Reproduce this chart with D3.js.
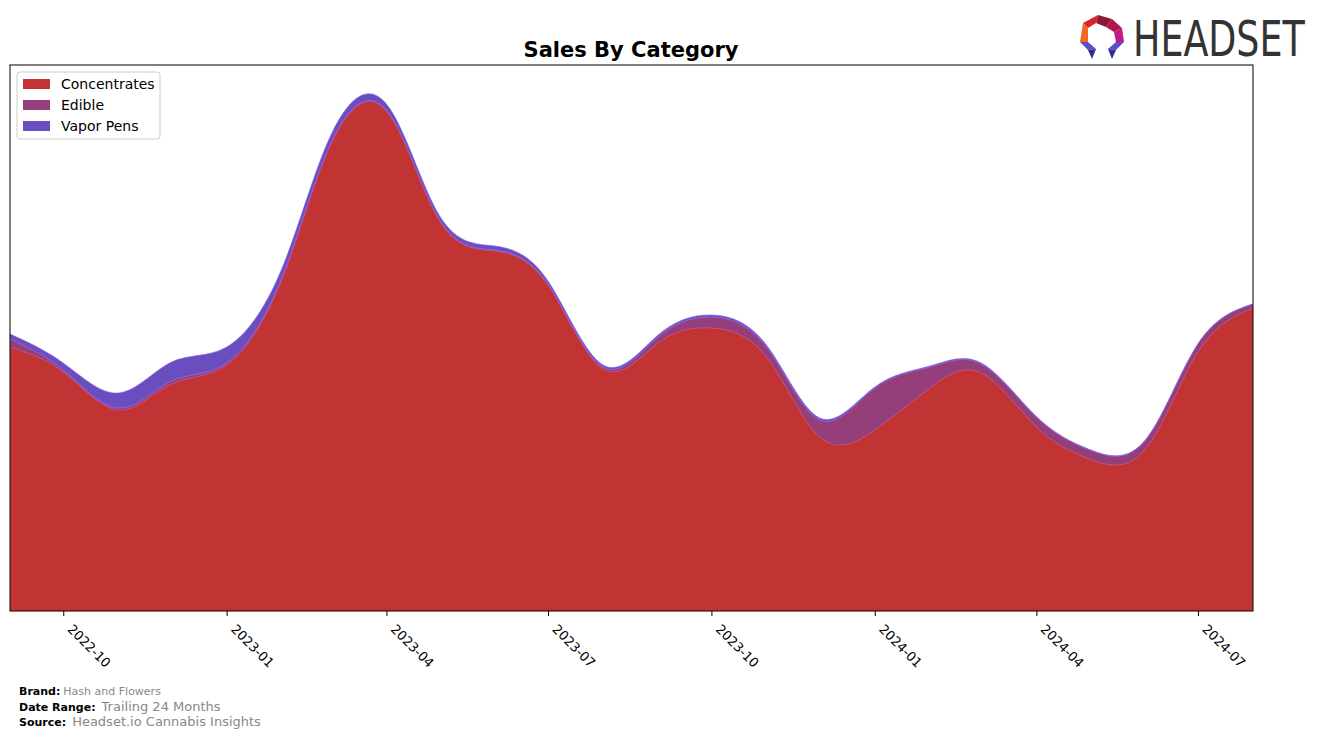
<!DOCTYPE html>
<meta charset="utf-8">
<style>
body { margin: 0; background: #fff; }
svg { font-family: "DejaVu Sans", sans-serif; }
.axis path, .axis line { stroke: #000; }
.axis text { font: 13px "DejaVu Sans", sans-serif; fill: #000; }
.foot-b { font-weight: bold; fill: #000; font-size: 11px; }
.foot-v { fill: #888; }
</style>
<svg width="1317" height="739"></svg>
<script src="https://d3js.org/d3.v7.min.js"></script>
<script>

// monthly data
var months = ["2022-09","2022-10","2022-11","2022-12","2023-01","2023-02","2023-03","2023-04",
              "2023-05","2023-06","2023-07","2023-08","2023-09","2023-10","2023-11","2023-12",
              "2024-01","2024-02","2024-03","2024-04","2024-05","2024-06","2024-07","2024-08"];
var concentrates = [264, 239, 201, 227, 246, 331, 468, 500, 390, 360, 326, 242,
                    268, 283, 254, 174, 181, 223, 238, 184, 152, 161, 259, 303];
var edible = [8, 2, 2, 3, 2, 2, 1, 1, 1, 1, 1, 2,
              6, 11, 10, 17, 42, 21, 9, 10, 9, 9, 8, 4];
var vaporPens = [5, 7, 15, 19, 16, 9, 8, 6, 4, 4, 3, 2,
                 2, 2, 2, 2, 1, 1, 1, 0.5, 0.5, 0, 0, 0];
var tickLabels = ["2022-10","2023-01","2023-04","2023-07","2023-10","2024-01","2024-04","2024-07"];

var categories = ["Concentrates", "Edible", "Vapor Pens"];
var colors = ["#c13433", "#953f7a", "#6a4ec0"];

var svg = d3.select("svg"),
    margin = {top: 65, right: 64, bottom: 128, left: 10},
    width = 1317 - margin.left - margin.right,
    height = 739 - margin.top - margin.bottom;

var parse = d3.timeParse("%Y-%m");

var table = months.map(function(m, i) {
  return {date: parse(m), "Concentrates": concentrates[i], "Edible": edible[i], "Vapor Pens": vaporPens[i]};
});

var x = d3.scaleTime()
    .domain(d3.extent(table, function(d) { return d.date; }))
    .range([0, width]);

var y = d3.scaleLinear()
    .domain([0, 546])
    .range([height, 0]);

var g = svg.append("g")
    .attr("transform", "translate(" + margin.left + "," + margin.top + ")");

g.append("clipPath").attr("id", "clip")
  .append("rect").attr("width", width).attr("height", height);

var series = d3.stack().keys(categories)(table);

var area = d3.area()
    .curve(d3.curveNatural)
    .x(function(d) { return x(d.data.date); })
    .y0(function(d) { return y(d[0]); })
    .y1(function(d) { return y(d[1]); });

g.append("g").attr("clip-path", "url(#clip)")
  .selectAll("path").data(series).enter().append("path")
    .attr("d", area)
    .attr("fill", function(d, i) { return colors[i]; })
    .attr("stroke", function(d, i) { return d3.color(colors[i]).brighter(0.6); })
    .attr("stroke-width", 0.6);

// frame
g.append("rect")
    .attr("width", width).attr("height", height)
    .attr("fill", "none").attr("stroke", "#000").attr("stroke-width", 1);

var ticks = tickLabels.map(parse);
var xAxis = g.append("g")
    .attr("class", "axis")
    .attr("transform", "translate(0," + height + ")")
    .call(d3.axisBottom(x).tickValues(ticks).tickFormat(d3.timeFormat("%Y-%m")).tickSize(5));
xAxis.select(".domain").remove();
xAxis.selectAll("text")
    .attr("x", 0).attr("y", 0).attr("dy", 0)
    .attr("text-anchor", "start")
    .attr("transform", "translate(3,19) rotate(45)");

// title
svg.append("text")
    .attr("x", 631).attr("y", 57)
    .attr("text-anchor", "middle")
    .style("font-size", "21px").style("font-weight", "bold")
    .text("Sales By Category");

// legend
var legend = svg.append("g").attr("transform", "translate(17,72)");
legend.append("rect")
    .attr("width", 143).attr("height", 67).attr("rx", 3)
    .attr("fill", "#fff").attr("stroke", "#ccc");
categories.forEach(function(c, i) {
  legend.append("rect").attr("x", 6).attr("y", 7 + i * 21).attr("width", 27).attr("height", 10).attr("fill", colors[i]);
  legend.append("text").attr("x", 44).attr("y", 17 + i * 21).style("font-size", "14px").text(c);
});

// footer
var foot = [["Brand:", "Hash and Flowers", 11, 695, 3], ["Date Range:", "Trailing 24 Months", 13, 711, 6], ["Source:", "Headset.io Cannabis Insights", 13, 726, 6]];
foot.forEach(function(f) {
  var t = svg.append("text").attr("x", 19).attr("y", f[3]);
  t.append("tspan").attr("class", "foot-b").text(f[0]);
  t.append("tspan").attr("class", "foot-v").attr("dx", f[4]).style("font-size", f[2] + "px").text(f[1]);
});

// logo
var logo = svg.append("g").attr("transform", "translate(1102,36)");
var pieces = [
  {p: [[-4,-21],[10,-17],[4,-9],[-6,-13]], c: "#8e1838"},
  {p: [[-4,-21],[-6,-13],[-14,-8],[-19,-13]], c: "#d6252f"},
  {p: [[10,-17],[20,-8],[12,-4],[4,-9]], c: "#b5124e"},
  {p: [[-19,-13],[-14,-8],[-14,6],[-22,6]], c: "#f26a22"},
  {p: [[20,-8],[22,6],[14,6],[12,-4]], c: "#c01a86"},
  {p: [[-22,6],[-14,6],[-6,13],[-14,14]], c: "#5a4fc9"},
  {p: [[-14,14],[-6,13],[-10,23]], c: "#2f2f8f"},
  {p: [[22,6],[14,6],[6,13],[14,14]], c: "#5a4fc9"},
  {p: [[14,14],[6,13],[10,23]], c: "#2f2f8f"}
];
pieces.forEach(function(d) {
  logo.append("polygon").attr("points", d.p.map(function(q) { return q.join(","); }).join(" ")).attr("fill", d.c);
});
svg.append("text")
    .attr("transform", "translate(1133,56) scale(0.81,1)")
    .style("font-family", "'DejaVu Sans Condensed', sans-serif")
    .style("font-size", "50px").style("fill", "#333")
    .text("HEADSET");

</script>
